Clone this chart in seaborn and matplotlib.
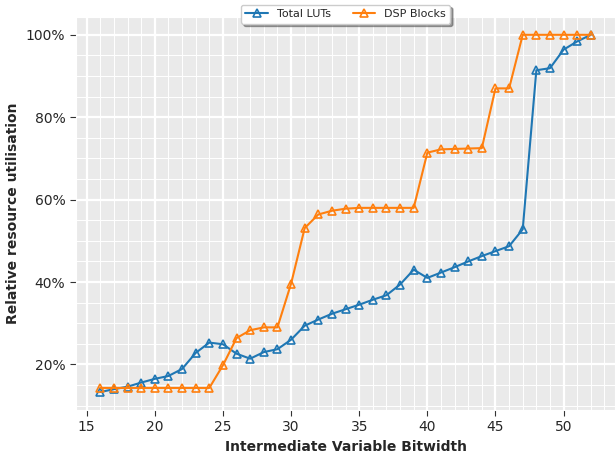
import pandas as pd
import matplotlib.pyplot as plt
import seaborn as sns
from matplotlib.ticker import MultipleLocator, PercentFormatter

# Bitwidths swept
bitwidth = list(range(16, 53))

# Relative utilisation (%)
total_luts = [13.3, 14.0, 14.6, 15.6, 16.5, 17.2, 18.9, 22.8, 25.3, 24.9,
              22.6, 21.4, 23.0, 23.7, 26.0, 29.4, 30.9, 32.3, 33.4, 34.5,
              35.7, 36.8, 39.4, 43.0, 41.0, 42.3, 43.6, 45.0, 46.3, 47.5,
              48.7, 52.8, 91.4, 91.9, 96.4, 98.4, 100.0]
dsp_blocks = [14.3, 14.3, 14.3, 14.3, 14.3, 14.3, 14.3, 14.3, 14.3, 19.8,
              26.4, 28.3, 29.0, 29.0, 39.6, 53.1, 56.4, 57.3, 57.8, 58.0,
              58.0, 58.0, 58.0, 58.0, 71.4, 72.2, 72.3, 72.4, 72.5, 87.0,
              87.0, 100.0, 100.0, 100.0, 100.0, 100.0, 100.0]

df = pd.DataFrame({'bitwidth': bitwidth, 'Total LUTs': total_luts, 'DSP Blocks': dsp_blocks})

sns.set_style('darkgrid', {'axes.facecolor': '#EAEAEA', 'xtick.bottom': True, 'ytick.left': True})

fig, ax = plt.subplots(figsize=(6.16, 4.58), dpi=100)
fig.subplots_adjust(left=0.123, right=0.999, top=0.963, bottom=0.105)

for col, color in [('Total LUTs', '#1f77b4'), ('DSP Blocks', '#ff7f0e')]:
    sns.lineplot(data=df, x='bitwidth', y=col, ax=ax, color=color, label=col,
                 marker='^', markersize=6, markerfacecolor='none',
                 markeredgecolor=color, markeredgewidth=1.2, linewidth=1.5)

ax.xaxis.set_major_locator(MultipleLocator(5))
ax.xaxis.set_minor_locator(MultipleLocator(1))
ax.yaxis.set_major_locator(MultipleLocator(20))
ax.yaxis.set_minor_locator(MultipleLocator(5))
ax.yaxis.set_major_formatter(PercentFormatter(decimals=0))
ax.grid(which='major', color='white', linewidth=1.6)
ax.grid(which='minor', color='white', linewidth=0.7)
ax.tick_params(axis='both', which='major', labelsize=10, length=4, color='#333333')
ax.tick_params(axis='both', which='minor', length=0)

ax.set_xlabel('Intermediate Variable Bitwidth', fontweight='bold', fontsize=10)
ax.set_ylabel('Relative resource utilisation', fontweight='bold', fontsize=10)

ax.legend(loc='upper center', bbox_to_anchor=(0.5, 1.045), ncol=2, fancybox=True,
          shadow=True, fontsize=8, facecolor='white', framealpha=1)

plt.savefig('out.png', dpi=100)
plt.close()
